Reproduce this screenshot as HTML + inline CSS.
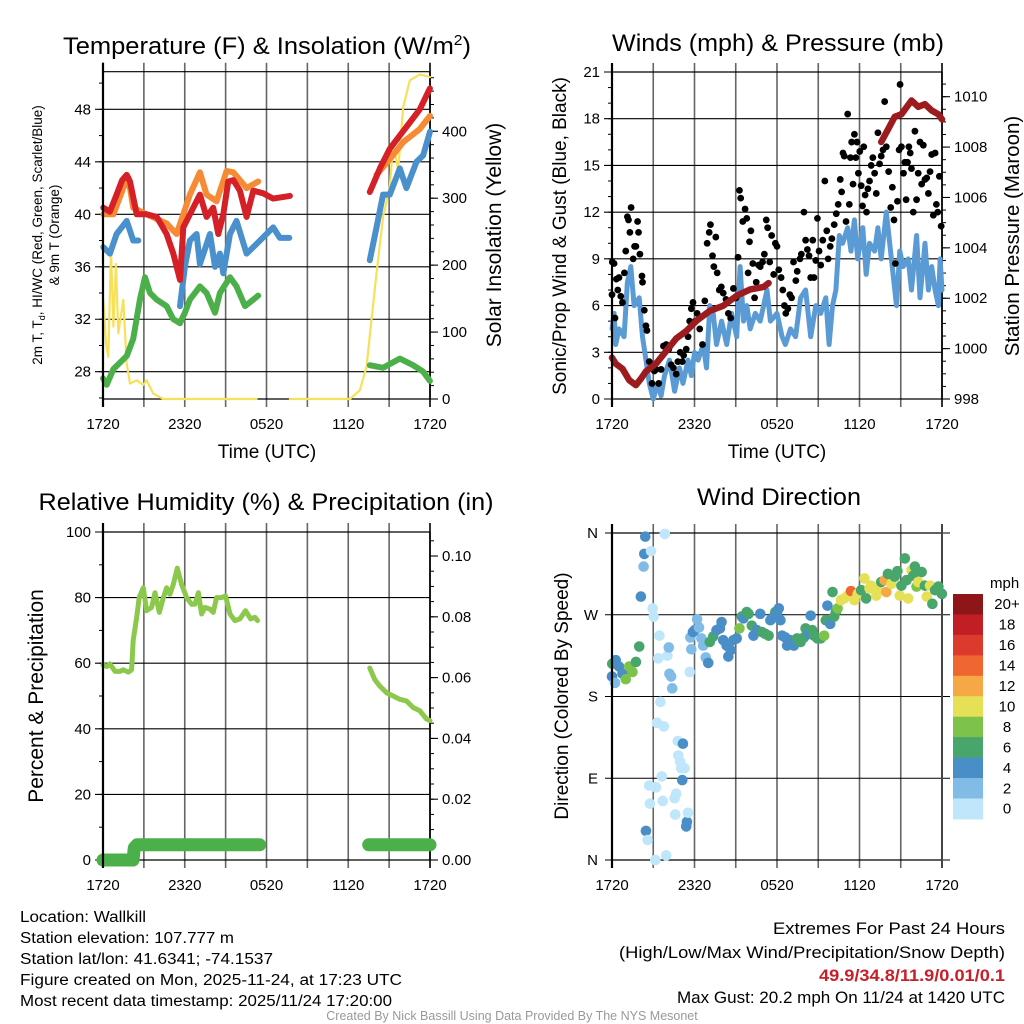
<!DOCTYPE html>
<html><head><meta charset="utf-8"><style>
html,body{margin:0;padding:0;background:#fff;}
svg{display:block;font-family:"Liberation Sans",sans-serif;}
</style></head><body>
<svg id="fig" width="1024" height="1024" viewBox="0 0 1024 1024" xmlns="http://www.w3.org/2000/svg">
<rect x="0" y="0" width="1024" height="1024" fill="#fff"/>
<g font-size="24.5" text-anchor="middle" fill="#000">
<text x="267" y="54" textLength="408" lengthAdjust="spacingAndGlyphs">Temperature (F) &amp; Insolation (W/m<tspan dy="-9" font-size="15">2</tspan><tspan dy="9">)</tspan></text>
<text x="778" y="51" textLength="332" lengthAdjust="spacingAndGlyphs">Winds (mph) &amp; Pressure (mb)</text>
<text x="266" y="510" textLength="455" lengthAdjust="spacingAndGlyphs">Relative Humidity (%) &amp; Precipitation (in)</text>
<text x="779" y="505" textLength="164" lengthAdjust="spacingAndGlyphs">Wind Direction</text>
</g>
<g font-size="19" text-anchor="middle">
<text x="267" y="458">Time (UTC)</text>
<text x="777" y="458">Time (UTC)</text>
</g>
<text transform="translate(42,235) rotate(-90)" font-size="13.5" text-anchor="middle">2m T, T<tspan font-size="9" dy="3">d</tspan><tspan dy="-3">, HI/WC (Red, Green, Scarlet/Blue)</tspan></text>
<text transform="translate(59,235) rotate(-90)" font-size="13.5" text-anchor="middle">&amp; 9m T (Orange)</text>
<text transform="translate(501,235) rotate(-90)" font-size="21" text-anchor="middle">Solar Insolation (Yellow)</text>
<text transform="translate(566,236) rotate(-90)" font-size="19" text-anchor="middle">Sonic/Prop Wind &amp; Gust (Blue, Black)</text>
<text transform="translate(1019,236) rotate(-90)" font-size="20.5" text-anchor="middle">Station Pressure (Maroon)</text>
<text transform="translate(43,696) rotate(-90)" font-size="21" text-anchor="middle">Percent &amp; Precipitation</text>
<text transform="translate(568,696) rotate(-90)" font-size="19" text-anchor="middle">Direction (Colored By Speed)</text>
<g font-size="15.5" fill="#000">
<text x="20" y="922" textLength="126" lengthAdjust="spacingAndGlyphs">Location: Wallkill</text>
<text x="20" y="943" textLength="214" lengthAdjust="spacingAndGlyphs">Station elevation: 107.777 m</text>
<text x="20" y="964" textLength="253" lengthAdjust="spacingAndGlyphs">Station lat/lon: 41.6341; -74.1537</text>
<text x="20" y="985" textLength="382" lengthAdjust="spacingAndGlyphs">Figure created on Mon, 2025-11-24, at 17:23 UTC</text>
<text x="20" y="1006" textLength="372" lengthAdjust="spacingAndGlyphs">Most recent data timestamp: 2025/11/24 17:20:00</text>
</g>
<g font-size="16.5" text-anchor="end">
<text x="1005" y="934" textLength="232" lengthAdjust="spacingAndGlyphs">Extremes For Past 24 Hours</text>
<text x="1005" y="958" textLength="386" lengthAdjust="spacingAndGlyphs">(High/Low/Max Wind/Precipitation/Snow Depth)</text>
<text x="1005" y="981" fill="#c8202a" font-weight="bold" textLength="186" lengthAdjust="spacingAndGlyphs">49.9/34.8/11.9/0.01/0.1</text>
<text x="1005" y="1003" textLength="328" lengthAdjust="spacingAndGlyphs">Max Gust: 20.2 mph On 11/24 at 1420 UTC</text>
</g>
<text x="512" y="1020" font-size="12.5" fill="#999" text-anchor="middle">Created By Nick Bassill Using Data Provided By The NYS Mesonet</text>
</svg>
<script>
// ---------- DATA ----------
const timeTickLabels = ["1720","2320","0520","1120","1720"];
const tempTicks = [28,32,36,40,44,48];
const insolTicks = [0,100,200,300,400];
const windTicks = [0,3,6,9,12,15,18,21];
const presTicks = [998,1000,1002,1004,1006,1008,1010];
const rhTicks = [0,20,40,60,80,100];
const precipTicks = [0,0.02,0.04,0.06,0.08,0.10];
const dirTickLabels = ["N","E","S","W","N"];
const speedBinLabels = ["0","2","4","6","8","10","12","14","16","18","20+"];
const speedBinColors = ["#bfe6fa","#80bce6","#4a8ec8","#48a66c","#7dc24a","#e6e057","#f6a847","#ef6630","#dc3a2c","#c11e26","#8e1518"];

const redTime = [0.02,0.5,1.0,1.4,1.74,1.98,2.47,3.2,3.94,4.67,5.16,5.65,5.89,6.38,7.11,7.6,8.09,8.46,8.83,9.19,9.56,10.05,10.54,11.03,11.76,12.49,13.72,null,19.58,20.32,21.05,21.78,22.52,23.25,23.99];
const redTemp = [40.5,40.2,41.5,42.6,43.0,42.5,40.0,40.0,39.8,38.5,37,35.0,39,40.0,41.5,39.8,40.5,38.5,40,42.5,42.6,41.8,39.8,41.8,41.6,41.2,41.4,null,41.7,43.5,45.0,46.0,47.0,48.0,49.6];
const orangeTime = [0.02,0.76,1.49,1.86,2.22,3.2,4.67,5.4,5.89,6.38,7.11,7.6,8.34,9.07,9.56,10.54,11.39,null,20.07,21.05,22.03,23.25,24.0];
const orangeTemp = [40.0,40.0,42,42.8,40.5,40.0,39.3,38.5,40.0,41.5,43.2,41.5,41.0,43.3,43.2,42.0,42.5,null,43,44.2,45.5,46.5,47.5];
const blueTime = [0.02,0.51,1.0,1.74,2.22,2.59,null,5.65,6.01,6.38,6.87,7.11,7.85,8.22,8.58,8.83,9.32,9.8,10.54,11.03,11.52,12.0,12.49,12.98,13.67,null,19.58,20.07,20.56,21.05,21.78,22.27,23.01,23.5,24.0];
const blueTemp = [37.5,37,38.5,39.5,38,38,null,33.0,36.0,38,38.5,36.2,38.5,36,37,35.5,38.5,39.5,37,37.5,38.0,38.5,39.0,38.2,38.2,null,36.5,39,41.5,41.5,43.5,42,44,44.5,46.3];
const greenTime = [0,0.27,0.76,1.74,2.22,2.71,3.08,3.45,3.94,4.67,5.16,5.65,6.01,6.38,7.11,7.6,8.22,8.58,9.32,9.8,10.42,11.03,11.39,null,19.58,20.56,21.78,22.76,23.5,23.99];
const greenTemp = [27.5,27,28.2,29.2,30.5,33.5,35.2,34.0,33.5,33.0,32,31.7,32.5,33.5,34.5,34.0,32.5,34,35.2,34.5,33.0,33.5,33.8,null,28.5,28.3,29.0,28.5,28.0,27.3];
const insolTime = [0.02,0.22,0.39,0.59,0.76,0.95,1.12,1.49,1.74,1.98,2.47,2.96,3.2,3.69,4.43,11.27,null,13.72,18.12,18.85,19.34,19.71,20.07,20.56,21.05,21.3,21.66,22.03,22.52,23.25,23.99];
const insolValue = [148,83,63,222,108,202,98,148,53,23,28,21,28,8,0,0,null,0,0,13,48,118,188,272,317,382,342,436,476,485,481];

const windTime = [0,0.15,0.27,0.51,0.88,1.12,1.37,1.61,1.98,2.22,2.47,2.71,3.0,3.32,3.57,3.82,4.18,4.55,4.91,5.16,5.53,5.77,6.01,6.26,6.63,6.87,7.11,7.36,7.6,7.97,8.34,8.7,9.07,9.32,9.56,9.8,10.05,10.42,10.78,11.27,11.52,12.0,12.37,12.61,12.98,13.35,13.72,14.08,14.45,14.82,15.18,15.55,15.79,16.04,16.28,16.53,16.77,17.14,17.38,17.63,17.87,18.24,18.49,18.73,19.1,19.34,19.58,19.95,20.32,20.69,20.93,21.17,21.54,21.78,22.15,22.4,22.76,23.01,23.25,23.5,23.74,23.86,24.0];
const windSpeed = [4.5,5.5,3.5,4.5,4.0,7.5,8.5,6.0,6.5,4.0,2.5,1.0,0,1.0,0.2,1.5,2.5,0.5,2.0,1.0,2.5,1.5,3.0,2.5,3.5,2.0,6.0,5.5,3.5,5.0,3.5,5.5,4.0,8.5,5.0,6.0,4.5,5.5,5.0,7.0,5.0,5.5,4.0,3.5,4.5,4.0,6.5,7.0,4.0,6.0,5.5,6.5,3.5,6.0,7.0,10.5,10.0,11.0,9.5,11.5,9.0,11.0,8.0,10.0,9.5,11.0,9.0,12.0,9.0,6.0,9.5,8.5,9.0,7.0,10.5,6.5,10.0,7.0,8.5,7.0,6.0,9.0,7.0];
const gustTime = [0,0.02,0.15,0.22,0.32,0.42,0.51,0.64,0.76,0.9,1.0,1.12,1.2,1.3,1.39,1.54,1.64,1.74,1.86,1.93,2.03,2.18,2.22,2.35,2.47,2.54,2.71,2.91,3.08,3.2,3.4,3.57,3.74,3.94,4.13,4.3,4.47,4.67,4.79,4.96,5.11,5.21,5.4,5.53,5.65,5.77,5.89,6.06,6.19,6.38,6.58,6.75,6.92,7.07,7.16,7.31,7.41,7.55,7.65,7.8,7.95,8.09,8.29,8.46,8.63,8.83,9.02,9.17,9.27,9.36,9.51,9.68,9.8,9.9,10.0,10.1,10.24,10.37,10.49,10.66,10.78,10.95,11.08,11.22,11.32,11.47,11.61,11.76,11.88,12.0,12.13,12.3,12.42,12.54,12.64,12.79,12.93,13.06,13.2,13.37,13.47,13.67,13.77,13.96,14.08,14.21,14.33,14.45,14.6,14.69,14.82,14.94,15.06,15.18,15.33,15.48,15.62,15.72,15.87,15.99,16.16,16.31,16.45,16.6,16.7,16.8,16.89,17.02,17.14,17.26,17.34,17.43,17.53,17.63,17.73,17.82,17.92,18.02,18.12,18.22,18.31,18.41,18.51,18.61,18.73,18.85,18.97,19.1,19.22,19.34,19.46,19.58,19.71,19.83,19.95,20.12,20.27,20.39,20.51,20.61,20.76,20.88,20.95,21.05,21.2,21.3,21.39,21.49,21.59,21.69,21.78,21.91,22.03,22.15,22.27,22.4,22.52,22.64,22.76,22.89,23.01,23.13,23.25,23.37,23.5,23.59,23.69,23.81,23.94];
const gustSpeed = [6.7,8.8,8.7,5.2,7.7,7.0,7.8,6.6,6.2,8.1,9.5,11.7,11.5,10.7,12.3,9.0,9.8,9.8,11.4,10.7,9.3,7.9,7.5,5.7,4.7,4.4,2.4,1.0,1.8,1.9,1.0,1.9,3.4,3.5,3.2,2.2,2.0,1.6,2.4,3.0,2.4,2.8,3.2,4.0,5.0,5.8,6.2,5.0,5.5,4.5,3.5,6.3,10.0,10.7,11.2,9.2,8.5,10.4,8.1,7.0,7.2,6.8,6.4,5.5,5.2,7.1,6.5,9.1,13.4,12.9,11.4,12.2,11.6,8.1,10.1,10.8,8.7,6.5,7.5,8.6,8.5,8.8,9.3,11.5,11.0,8.8,10.5,8.0,10.0,9.8,8.3,7.8,7.0,6.0,5.5,5.8,6.7,6.5,8.8,7.6,8.2,9.0,9.3,12.0,10.2,9.6,9.2,7.8,10.2,7.8,8.9,11.6,9.5,8.6,10.2,14.0,10.8,9.0,9.8,10.3,11.2,11.9,12.5,14.1,13.3,15.8,15.6,11.4,18.3,12.5,15.5,16.5,13.8,17.0,15.5,16.5,14.5,15.9,13.7,12.4,16.2,13.1,12.0,13.5,14.0,15.0,15.5,14.5,13.2,17.1,15.1,15.6,16.0,19.1,16.2,14.6,12.3,13.6,11.5,8.7,12.7,16.0,20.2,16.2,14.5,15.2,12.8,15.2,16.2,15.8,14.8,12.0,17.2,12.8,14.5,16.5,13.8,16.3,14.1,14.2,13.2,14.6,15.7,11.8,15.8,12.5,12.0,14.3,11.1];
const presTime = [0,0.27,0.76,1.25,1.74,2.1,2.47,3.2,3.94,4.67,5.4,6.14,7.11,8.09,9.07,10.05,11.03,11.39,null,19.58,20.07,20.56,21.05,21.78,22.27,22.76,23.25,23.74,24.0];
const presValue = [999.64,999.4,999.2,998.75,998.55,998.8,999.1,999.4,999.9,1000.4,1000.7,1001.1,1001.5,1001.7,1002.1,1002.35,1002.45,1002.6,null,1008.2,1008.7,1009.2,1009.3,1009.85,1009.6,1009.7,1009.45,1009.3,1009.1];

const rhTime = [0,0.27,0.51,0.88,1.25,1.49,1.86,2.1,2.22,2.47,2.66,2.96,3.2,3.57,3.82,4.13,4.43,4.67,4.91,5.16,5.45,5.77,6.14,6.5,6.75,7.0,7.24,7.48,7.85,8.09,8.34,8.7,9.0,9.32,9.68,10.05,10.46,10.83,11.15,11.34,null,19.58,19.95,20.32,20.81,21.3,21.78,22.27,22.76,23.25,23.74,24.0];
const rhValue = [59.5,59,59.8,57.5,57.5,58,57.3,58,67,74,80,83,76,77,81.5,75.5,80,83,81,84,89,84,80,78,78,81.5,75,77,76.5,75.5,80,80,80.5,75,73,73.5,76,73.5,74,73,null,58.5,55,53,51,50,49,48.5,46.5,45.5,43,42.5];
const precipTime = [0,2.2,2.3,2.5,11.5,null,19.5,24.0];
const precipValue = [0,0,0.004,0.005,0.005,null,0.005,0.005];

const dirTime = [0.0,0.02,0.22,0.27,0.51,0.76,1.0,1.25,1.49,1.74,1.98,2.1,2.3,2.35,2.42,2.84,2.96,3.03,2.47,2.59,2.71,2.76,3.15,3.2,3.28,3.37,3.45,3.52,3.62,3.69,3.77,3.84,3.94,4.03,4.13,4.18,4.3,4.38,4.55,4.67,4.6,4.79,4.82,4.96,5.04,5.16,5.11,5.28,5.4,5.45,5.53,5.65,5.7,5.77,5.89,6.01,6.19,6.33,6.5,6.63,6.82,7.0,7.11,7.36,7.6,7.85,7.97,8.09,8.34,8.46,8.63,8.83,9.07,9.27,9.44,9.56,9.8,9.93,10.17,10.29,10.54,10.78,10.9,11.15,11.39,11.52,11.76,11.88,12.0,12.13,12.25,12.37,12.61,12.74,12.98,13.23,13.47,13.72,13.96,14.08,14.33,14.45,14.57,14.69,14.94,15.18,15.43,15.55,15.67,15.87,16.04,16.16,16.28,16.41,16.65,16.89,17.14,17.38,17.63,17.87,18.12,18.36,18.48,18.73,18.85,19.22,19.34,19.58,19.83,19.95,20.07,20.32,20.56,20.76,20.93,21.05,21.3,21.42,21.54,21.78,21.91,22.03,22.15,22.27,22.52,22.76,22.89,23.13,23.3,23.5,23.74,23.99];
const dirDeg = [202,216,195,220,213,205,199,213,207,218,235,290,323,337,356,340,277,268,32,22,82,62,0,80,151,222,247,174,92,65,147,359,5,225,234,205,202,189,68,73,50,131,115,108,101,128,88,101,37,42,52,207,245,232,251,253,265,256,244,236,223,217,240,246,253,255,262,242,236,224,231,242,244,255,268,266,273,271,258,247,253,271,251,249,247,264,268,273,271,277,264,247,245,236,242,236,244,240,245,255,249,269,253,247,244,244,247,264,280,260,295,268,273,277,286,288,291,296,286,293,297,310,288,299,302,291,297,306,308,295,315,304,312,318,291,302,332,308,288,319,313,323,301,306,317,302,290,302,282,297,301,293];
const dirSpeed = [4,6,2,4,4,4,8,8,8,6,6,4,2,4,4,0,0,0,4,0,0,0,0,0,0,0,0,0,0,0,0,0,0,0,2,2,2,2,0,0,0,0,0,0,0,4,4,0,4,4,0,0,2,2,4,4,2,2,2,2,2,4,6,6,4,4,4,4,4,4,4,4,4,8,6,4,6,6,6,4,4,4,6,6,6,4,4,6,4,4,4,4,4,4,4,4,6,6,6,6,4,4,6,6,6,6,8,6,4,4,6,6,6,8,10,10,10,14,10,10,6,10,6,10,10,10,10,6,12,12,6,10,6,6,10,6,6,6,10,10,6,6,8,10,6,6,10,10,6,6,6,6];

// ---------- DRAWING ----------
const NS = "http://www.w3.org/2000/svg";
const svg = document.getElementById("fig");
function mk(tag, attrs, parent) {
  const e = document.createElementNS(NS, tag);
  for (const k in attrs) e.setAttribute(k, attrs[k]);
  (parent || svg).appendChild(e);
  return e;
}
function linScale(d0, d1, r0, r1) { return v => r0 + (v - d0) / (d1 - d0) * (r1 - r0); }

function pathFrom(times, vals, sx, sy) {
  let d = "", pen = false;
  for (let i = 0; i < times.length; i++) {
    if (times[i] === null || vals[i] === null) { pen = false; continue; }
    d += (pen ? "L" : "M") + sx(times[i]).toFixed(1) + " " + sy(vals[i]).toFixed(1);
    pen = true;
  }
  return d;
}

function panelFrame(P, name) {
  const g = mk("g", {});
  
  
  for (let h = 0; h <= 24; h += 3) {
    const x = P.sx(h);
    const l = mk("line", {x1:x, x2:x, y1:P.yTop-9, y2:P.yBot+8, stroke:(h===0||h===24)?"#000":"#666", "stroke-width":(h===0)?2:1.6}, g);
    
    
  }
  for (let i = 0; i < timeTickLabels.length; i++) {
    const t = mk("text", {x:P.sx(i*6), y:P.yBot+30, "font-size":15, "text-anchor":"middle"}, g);
    t.textContent = timeTickLabels[i];
    
    
  }
  mk("line", {x1:P.x0, x2:P.x1, y1:P.yTop, y2:P.yTop, stroke:"#000", "stroke-width":1.2}, g);
  mk("line", {x1:P.x0, x2:P.x1, y1:P.yBot, y2:P.yBot, stroke:"#000", "stroke-width":1.2}, g);
  return g;
}
function leftAxis(P, ticks, minorStep, dmin, dmax, sy, fmt, name, gridRight) {
  const g = mk("g", {});
  
  
  for (const v of ticks) {
    const y = sy(v);
    mk("line", {x1:P.x0-8, x2:gridRight, y1:y, y2:y, stroke:"#000", "stroke-width":1.1}, g);
    const t = mk("text", {x:P.x0-12, y:y+5, "font-size":15, "text-anchor":"end"}, g);
    t.textContent = fmt(v);
    
    
  }
  if (minorStep) {
    for (let v = Math.ceil(dmin/minorStep)*minorStep; v <= dmax; v += minorStep) {
      const y = sy(v);
      mk("line", {x1:P.x0-4, x2:P.x0, y1:y, y2:y, stroke:"#000", "stroke-width":1}, g);
    }
  }
}
function rightAxis(P, ticks, minorStep, dmin, dmax, sy, fmt, name) {
  const g = mk("g", {});
  
  
  mk("line", {x1:P.x1, x2:P.x1, y1:P.yTop, y2:P.yBot, stroke:"#000", "stroke-width":1.5}, g);
  for (const v of ticks) {
    const y = sy(v);
    mk("line", {x1:P.x1, x2:P.x1+8, y1:y, y2:y, stroke:"#000", "stroke-width":1.1}, g);
    const t = mk("text", {x:P.x1+12, y:y+5, "font-size":15, "text-anchor":"start"}, g);
    t.textContent = fmt(v);
    
    
  }
  for (let v = Math.ceil(dmin/minorStep - 1e-9)*minorStep; v <= dmax + 1e-9; v += minorStep) {
    const y = sy(v);
    mk("line", {x1:P.x1, x2:P.x1+4, y1:y, y2:y, stroke:"#000", "stroke-width":1}, g);
  }
}
function leftEdge(P) { mk("line", {x1:P.x0, x2:P.x0, y1:P.yTop-9, y2:P.yBot+8, stroke:"#000", "stroke-width":2.2}); }
function drawLine(d, color, w, name) {
  const p = mk("path", {d:d, fill:"none", stroke:color, "stroke-width":w, "stroke-linejoin":"round", "stroke-linecap":"round"});
  
  
  return p;
}

// ----- Panel 1 -----
const P1 = {x0:103, x1:430, yTop:71.7, yBot:399};
P1.sx = linScale(0, 24, P1.x0, P1.x1);
const tY = linScale(25.92, 50.87, P1.yBot, P1.yTop);
const iY = linScale(0, 489, P1.yBot, P1.yTop);
panelFrame(P1, "temp-panel");
leftAxis(P1, tempTicks, 2, 25.92, 50.87, tY, v => String(v), "temp-y-axis", P1.x1);
rightAxis(P1, insolTicks, 20, 0, 489, iY, v => String(v), "insolation-axis");
drawLine(pathFrom(insolTime, insolValue, P1.sx, iY), "#f7e05a", 2.2, "insolation-line");
drawLine(pathFrom(greenTime, greenTemp, P1.sx, tY), "#4cb04a", 6, "dewpoint-line");
drawLine(pathFrom(blueTime, blueTemp, P1.sx, tY), "#4a90cc", 6, "windchill-line");
drawLine(pathFrom(orangeTime, orangeTemp, P1.sx, tY), "#f78a34", 6, "temp-9m-line");
drawLine(pathFrom(redTime, redTemp, P1.sx, tY), "#d42026", 6, "temp-2m-line");
leftEdge(P1);

// ----- Panel 2 -----
const P2 = {x0:612, x1:942, yTop:72, yBot:399};
P2.sx = linScale(0, 24, P2.x0, P2.x1);
const wY = linScale(0, 21, P2.yBot, P2.yTop);
const pY = linScale(998, 1010.98, P2.yBot, P2.yTop);
panelFrame(P2, "wind-panel");
leftAxis(P2, windTicks, 1, 0, 21, wY, v => String(v), "wind-y-axis", P2.x1);
rightAxis(P2, presTicks, 0.5, 998, 1010.98, pY, v => String(v), "pressure-axis");
drawLine(pathFrom(windTime, windSpeed, P2.sx, wY), "#5b9bd5", 5, "wind-speed-line");
for (let i = 0; i < gustTime.length; i++) {
  const c = mk("circle", {cx:P2.sx(gustTime[i]), cy:wY(gustSpeed[i]), r:3.4, fill:"#000"});
  
  
}
drawLine(pathFrom(presTime, presValue, P2.sx, pY), "#9b1b1e", 6.5, "pressure-line");
leftEdge(P2);

// ----- Panel 3 -----
const P3 = {x0:103, x1:430, yTop:532, yBot:860};
P3.sx = linScale(0, 24, P3.x0, P3.x1);
const rY = linScale(0, 100, P3.yBot, P3.yTop);
const prY = linScale(0, 0.1079, P3.yBot, P3.yTop);
panelFrame(P3, "rh-panel");
leftAxis(P3, rhTicks, 10, 0, 100, rY, v => String(v), "rh-y-axis", P3.x1);
rightAxis(P3, precipTicks, 0.005, 0, 0.1079, prY, v => v.toFixed(2), "precip-axis");
drawLine(pathFrom(rhTime, rhValue, P3.sx, rY), "#8cc84b", 5, "rh-line");
drawLine(pathFrom(precipTime, precipValue, P3.sx, prY), "#4cb04a", 13, "precip-line");
leftEdge(P3);

// ----- Panel 4 -----
const P4 = {x0:612, x1:942, yTop:533, yBot:860};
P4.sx = linScale(0, 24, P4.x0, P4.x1);
const dY = linScale(0, 360, P4.yBot, P4.yTop);
panelFrame(P4, "dir-panel");
(function(){
  const g = mk("g", {});
  
  
  for (let i = 0; i < dirTickLabels.length; i++) {
    const y = dY(i*90);
    mk("line", {x1:P4.x0-7, x2:P4.x1+8, y1:y, y2:y, stroke:"#000", "stroke-width":1.1}, g);
    const t = mk("text", {x:P4.x0-14, y:y+5, "font-size":15, "text-anchor":"end"}, g);
    t.textContent = dirTickLabels[i];
    
    
  }
  mk("line", {x1:P4.x1, x2:P4.x1, y1:P4.yTop-9, y2:P4.yBot+8, stroke:"#444", "stroke-width":2}, g);
})();
for (let i = 0; i < dirTime.length; i++) {
  const bin = Math.min(10, Math.floor(dirSpeed[i] / 2));
  const c = mk("circle", {cx:P4.sx(dirTime[i]), cy:dY(dirDeg[i]), r:5.3, fill:speedBinColors[bin]});
  
  
}
leftEdge(P4);
(function(){
  const g = mk("g", {});
  
  
  const top = 594, h = 20.45;
  for (let i = 0; i < speedBinLabels.length; i++) {
    const k = speedBinLabels.length - 1 - i;
    const r = mk("rect", {x:953, y:top + i*h, width:30, height:h+0.5, fill:speedBinColors[k]}, g);
    
    
    const t = mk("text", {x:1007, y:top + i*h + h/2 + 5, "font-size":15, "text-anchor":"middle"}, g);
    t.textContent = speedBinLabels[k];
    
    
  }
  const u = mk("text", {x:990, y:588, "font-size":15}, g);
  u.textContent = "mph";
  
  
})();
</script>
</body></html>
